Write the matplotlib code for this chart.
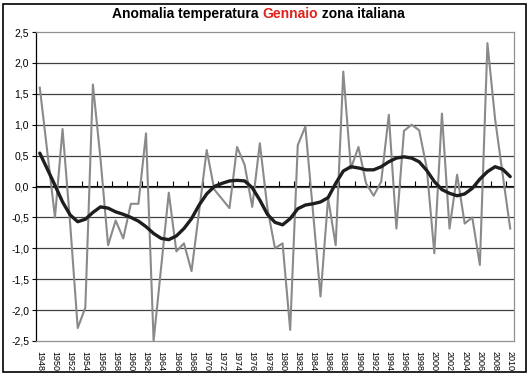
import matplotlib
matplotlib.use('Agg')
import matplotlib.pyplot as plt
from matplotlib.patches import Rectangle
import numpy as np

plt.rcParams['font.family'] = ['Liberation Sans', 'DejaVu Sans']

# anni e valori
years = list(range(1948, 2011))
anomaly = [1.60, 0.55, -0.50, 0.93, -0.60, -2.29, -1.96, 1.65, 0.45, -0.95,
           -0.55, -0.84, -0.28, -0.28, 0.86, -2.50, -1.30, -0.10, -1.05, -0.92,
           -1.37, -0.40, 0.59, -0.05, -0.20, -0.35, 0.64, 0.35, -0.33, 0.70,
           -0.35, -1.00, -0.92, -2.32, 0.67, 0.97, -0.40, -1.78, -0.19, -0.95,
           1.86, 0.29, 0.64, 0.05, -0.15, 0.08, 1.16, -0.68, 0.90, 1.00,
           0.91, 0.30, -1.08, 1.18, -0.68, 0.19, -0.60, -0.50, -1.27, 2.32,
           1.10, 0.20, -0.68]
smooth = [0.54, 0.28, 0.02, -0.25, -0.46, -0.57, -0.53, -0.42, -0.33, -0.35,
          -0.41, -0.45, -0.50, -0.56, -0.65, -0.76, -0.84, -0.86, -0.80, -0.68,
          -0.52, -0.30, -0.12, 0.00, 0.05, 0.09, 0.10, 0.09, -0.02, -0.22,
          -0.45, -0.58, -0.62, -0.52, -0.36, -0.30, -0.28, -0.25, -0.18, 0.05,
          0.25, 0.32, 0.30, 0.27, 0.27, 0.32, 0.40, 0.46, 0.48, 0.46,
          0.40, 0.26, 0.08, -0.05, -0.11, -0.15, -0.12, -0.03, 0.12, 0.24,
          0.32, 0.28, 0.16]
yticks = [-2.5, -2.0, -1.5, -1.0, -0.5, 0.0, 0.5, 1.0, 1.5, 2.0, 2.5]

fig = plt.figure(figsize=(5.29, 3.84), dpi=100)
ax = fig.add_axes([36 / 529, 43 / 384, 478 / 529, 309 / 384])

x = np.arange(len(years))
for v in yticks[1:-1]:
    ax.axhline(v, color='#404040', lw=0.9, zorder=1)

ax.plot(x, anomaly, color='#8a8a8a', lw=1.5, zorder=3)
ax.plot(x, smooth, color='#1e1e1e', lw=2.4, zorder=4, solid_capstyle='round')

ax.set_xlim(-0.5, len(years) - 0.5)
ax.set_ylim(-2.5, 2.5)

# asse y
ax.set_yticks(yticks)
ax.set_yticklabels([('%.1f' % v).replace('.', ',') for v in yticks], fontsize=7.5)
ax.tick_params(axis='y', direction='out', length=3, width=0.8, pad=2)

# etichette anni in basso
ax.set_xticks(x[::2])
ax.set_xticklabels([str(y) for y in years[::2]], rotation=270, fontsize=6.5)
ax.tick_params(axis='x', length=0, pad=7)

for s in ['top', 'right', 'bottom']:
    ax.spines[s].set_color('#909090')
    ax.spines[s].set_linewidth(0.9)
ax.spines['left'].set_color('black')
ax.spines['left'].set_linewidth(0.9)

# asse categorie a y = 0
sec = ax.secondary_xaxis(0.5)
sec.set_xticks(np.arange(-0.5, len(years), 2))
sec.set_xticklabels([])
sec.tick_params(direction='out', length=3.5, width=0.8, color='black')
sec.spines['bottom'].set_color('black')
sec.spines['bottom'].set_linewidth(1.0)

# titolo in tre pezzi
t1 = fig.text(112 / 529, 1 - 18 / 384, 'Anomalia temperatura ', fontsize=10,
              fontweight='bold', color='black', va='baseline')
t2 = ax.annotate('Gennaio', xy=(1, 0), xycoords=t1, fontsize=10,
                 fontweight='bold', color='#e0201a', va='bottom')
t3 = ax.annotate(' zona italiana', xy=(1, 0), xycoords=t2, fontsize=10,
                 fontweight='bold', color='black', va='bottom')

# bordo esterno
fig.patches.append(Rectangle((3 / 529, 12 / 384), 523 / 529, 368 / 384,
                             transform=fig.transFigure, fill=False,
                             edgecolor='black', lw=1.2))

fig.savefig('out.png', dpi=100)
